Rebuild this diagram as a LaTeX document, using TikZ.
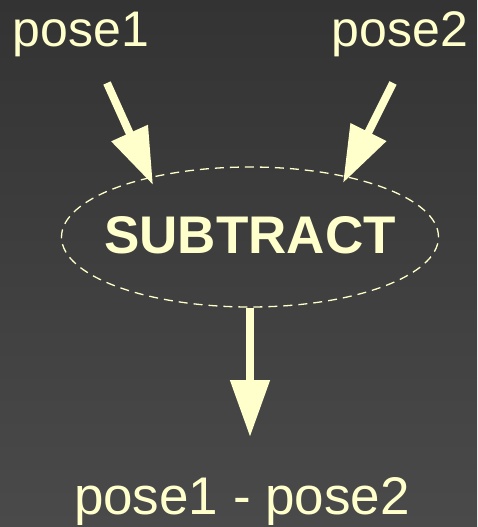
\documentclass[tikz,border=0pt]{standalone}
\usepackage{fontspec}
\setmainfont{Liberation Sans}
\usetikzlibrary{arrows.meta, shapes.geometric}
\definecolor{cream}{HTML}{FFFFCC}
\definecolor{bgtop}{HTML}{333333}
\definecolor{bgbot}{HTML}{4A4A4A}

\begin{document}
\begin{tikzpicture}[x=1pt, y=-1pt, >={Triangle[length=57pt,width=38pt]},
    posetext/.style={text=cream, font=\fontsize{50}{60}\selectfont, anchor=base, inner sep=0pt},
    op/.style={ellipse, draw=cream, dash pattern=on 9pt off 6pt, line width=1.3pt, minimum width=377pt, minimum height=140pt, inner sep=0pt},
    optext/.style={text=cream, inner sep=0pt, font=\bfseries\fontsize{53}{64}\selectfont},
    flow/.style={->, draw=cream, line width=8pt}]
  \shade[top color=bgtop, bottom color=bgbot] (0,0) rectangle (477,527);
  \useasboundingbox (0,0) rectangle (477,527);

  \node[posetext]  (pose1)   at (81,47)    {pose1};
  \node[posetext]  (pose2)   at (400,47)   {pose2};
  \node[op, label={[optext, yshift=2pt]center:SUBTRACT}] (sub) at (250,237) {};
  \node[posetext, font=\fontsize{53}{64}\selectfont] (result) at (242,514) {pose1 - pose2};

  \coordinate (in1)  at (107,83);
  \coordinate (in2)  at (393,83);
  \coordinate (tip1) at (153,185);
  \coordinate (tip2) at (343,183);
  \coordinate (tip3) at (250,437);

  \draw[flow] (in1) -- (tip1);
  \draw[flow] (in2) -- (tip2);
  \draw[flow] (sub.south) -- (tip3);
\end{tikzpicture}
\end{document}
